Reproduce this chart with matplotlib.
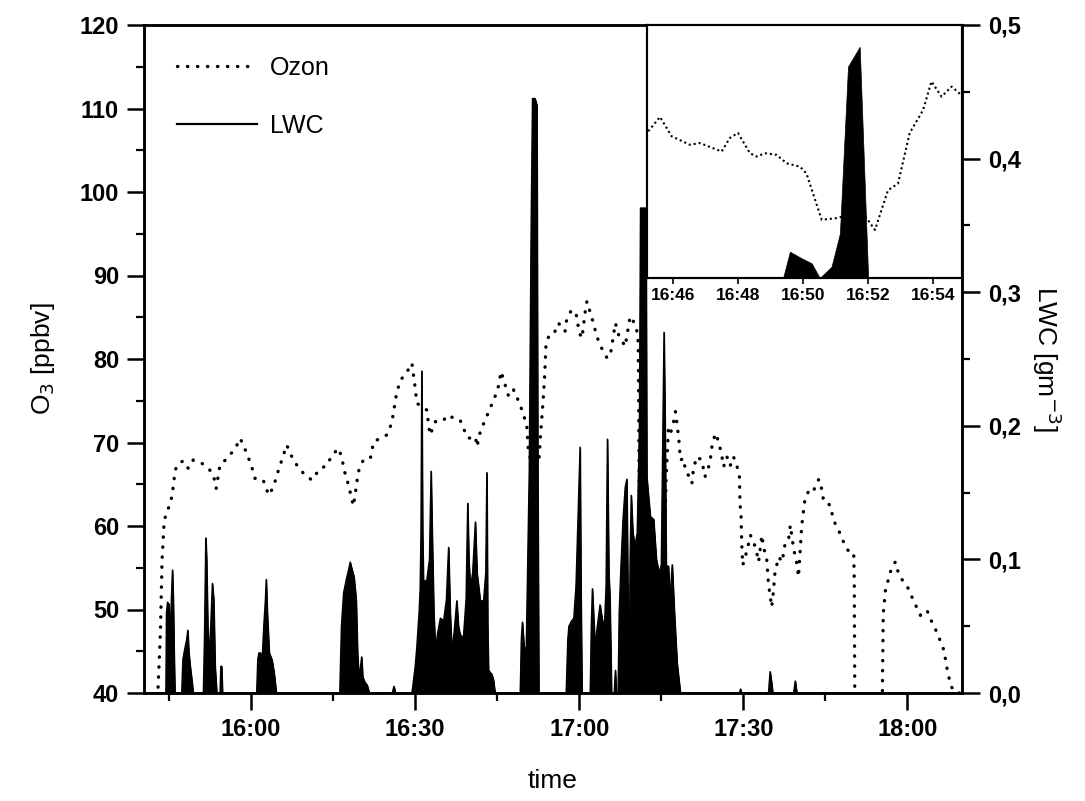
import matplotlib
matplotlib.use('Agg')
import matplotlib.pyplot as plt
from matplotlib.lines import Line2D
from matplotlib.ticker import FixedLocator, FuncFormatter, MultipleLocator

plt.rcParams['font.family'] = ['Liberation Sans', 'DejaVu Sans']

# ---------------- data (time in minutes after 15:00) ----------------
ozone_time = [42.9, 43.4, 43.7, 44.1, 44.9, 45.5, 45.8, 46.1, 46.7, 47.6, 48.5, 49.4, 51.0, 52.2,
              53.1, 53.6, 54.3, 55.6, 57.1, 58.0, 59.2, 60.1, 60.7, 62.2, 63.2, 64.1, 64.7, 65.3,
              66.5, 67.7, 69.0, 69.9, 71.1, 72.6, 73.8, 74.8, 76.0, 76.6, 77.0, 77.8, 78.7, 79.0,
              79.6, 80.5, 81.8, 82.4, 83.6, 84.8, 85.7, 86.6, 87.3, 88.2, 89.4, 90.0, 90.3, 91.2,
              92.1, 92.7, 93.7, 94.9, 96.1, 97.0, 98.2, 98.8, 99.7, 101.0, 101.3, 101.9, 102.8,
              103.7, 104.6, 105.2, 105.7, 107.1, 108.0, 109.2, 109.8, 110.4, 110.7, 111.3, 112.6,
              112.9, 113.4, 113.7, 113.9, 114.4, 115.3, 116.2, 117.4, 117.7, 118.6, 119.6, 119.9,
              120.5, 121.1, 121.4, 122.6, 123.2, 124.1, 125.1, 125.7, 126.6, 127.2, 128.4, 128.7,
              129.3, 129.9, 130.5, 130.8, 131.0, 131.2, 135.2, 135.5, 135.9, 136.3, 136.6, 137.2,
              137.6, 137.9, 138.2, 138.5, 139.1, 139.4, 140.3, 140.6, 140.9, 141.5, 142.4, 143.0,
              143.6, 144.0, 144.3, 144.9, 145.5, 146.1, 146.4, 147.0, 147.6, 148.2, 148.8, 149.3,
              149.4, 149.6, 149.7, 149.9, 150.7, 151.3, 151.9, 152.5, 152.8, 153.4, 153.7, 154.3,
              154.6, 155.2, 155.5, 155.8, 156.5, 157.1, 157.7, 158.3, 158.6, 159.2, 159.8, 160.1,
              160.4, 160.7, 161.0, 161.3, 162.2, 162.9, 163.8, 164.4, 164.7, 165.9, 166.5, 167.7,
              168.7, 169.6, 170.2, 170.3, 170.4, 175.4, 175.6, 176.0, 176.9, 177.8, 178.4, 179.3,
              180.2, 181.1, 182.4, 183.6, 184.2, 185.1, 186.0, 186.7, 187.3, 187.9, 188.5, 189.5]
ozone_ppbv = [39.5, 47.2, 55.9, 60.7, 62.2, 63.5, 65.0, 66.7, 67.5, 67.8, 66.9, 67.9, 67.5, 66.9,
              66.1, 64.5, 67.3, 68.1, 69.3, 70.5, 68.7, 67.1, 65.7, 65.5, 63.7, 64.7, 66.1, 67.3,
              69.7, 67.9, 66.7, 66.1, 65.5, 66.9, 67.2, 68.5, 69.3, 68.1, 66.7, 64.9, 62.4, 63.7,
              66.5, 67.9, 68.1, 70.1, 70.5, 70.9, 72.3, 75.9, 77.5, 78.1, 79.5, 76.5, 74.7, 74.3,
              73.9, 70.9, 72.5, 72.5, 73.3, 72.9, 72.7, 71.7, 70.5, 70.7, 69.5, 71.3, 72.7,
              74.1, 75.5, 76.7, 78.5, 75.5, 76.3, 74.5, 73.3, 72.1, 68.9, 67.5, 67.5,
              70.7, 75.1, 78.3, 81.5, 82.7, 82.9, 84.3, 83.3, 84.7, 85.9, 85.1, 83.3,
              82.5, 85.7, 86.9, 84.3, 82.7, 81.3, 80.1, 80.5, 84.3, 82.9, 81.5, 82.7,
              85.1, 84.5, 83.5, 81.9, 60.0, 38.0, 38.0, 55.0, 66.0, 71.5, 70.9, 72.3,
              73.7, 72.1, 70.5, 67.9, 68.1, 66.7, 65.7, 65.1, 66.9, 68.3, 67.9, 65.9,
              66.9, 68.1, 69.7, 71.1, 70.1, 68.3, 67.1, 68.3, 67.2, 68.3, 67.3, 65.9,
              62.7, 61.1, 58.1, 55.3, 57.1, 58.9, 58.1, 56.7, 55.7, 58.9, 57.5, 55.9,
              53.1, 50.3, 52.1, 54.5, 56.3, 55.7, 58.1, 58.5, 60.1, 57.3, 55.5, 53.9,
              57.1, 60.1, 61.7, 63.3, 64.5, 64.3, 65.6, 64.3, 62.9, 62.5, 60.7, 59.1,
              57.5, 56.7, 56.7, 53.5, 38.0, 38.0, 49.5, 52.3, 54.5, 55.7, 54.3, 53.3,
              52.5, 51.1, 49.3, 49.9, 48.9, 47.7, 46.3, 45.1, 42.8, 41.0, 40.2, 40.0]

lwc_time = [40.4, 44.4, 44.5, 44.7, 45.0, 45.2, 45.4, 45.6, 45.75, 45.9, 46.05,
            47.3, 47.5, 47.8, 48.2, 48.4, 48.6, 48.9, 49.2, 49.4,
            51.25, 51.45, 51.7, 51.85, 52.1, 52.3, 52.6, 52.9, 53.15, 53.4, 53.7,
            54.3, 54.45, 54.6, 54.75,
            61.0, 61.2, 61.4, 61.7, 62.0, 62.3, 62.6, 62.75, 62.95, 63.3, 63.8, 64.2, 64.6,
            76.2, 76.5, 76.9, 77.4, 77.8, 78.1, 78.4, 78.8, 79.2, 79.45, 79.7, 80.0, 80.2, 80.4,
            80.8, 81.2, 81.6, 85.8, 86.1, 86.4,
            89.4, 90.0, 90.3, 90.7, 90.9, 91.05, 91.2, 91.35, 91.5, 92.1, 92.6, 92.9, 93.1, 93.4,
            93.7, 94.1, 94.6, 95.2, 95.7, 96.1, 96.4, 96.7, 97.1, 97.6, 97.9, 98.2, 98.8, 99.3,
            99.6, 99.8, 100.1, 100.5, 101.0, 101.3, 101.9, 102.5, 102.9, 103.1, 103.25, 103.4,
            104.0, 104.3, 104.6,
            109.2, 109.4, 109.6, 109.9, 110.3, 110.5, 110.85, 111.2, 111.45, 111.9, 112.25,
            112.4, 112.6,
            117.6, 117.9, 118.1, 118.6, 119.0, 119.4, 119.6, 119.9, 120.15, 120.3, 120.5,
            122.0, 122.2, 122.4, 122.6, 122.9, 123.3, 123.8, 124.2, 124.6, 124.9, 125.15, 125.4,
            125.6, 125.9, 126.4, 126.6, 126.8, 127.1, 127.3, 127.6, 128.0, 128.4, 128.7, 128.95,
            129.1, 129.3, 129.5, 129.8, 130.2, 130.6, 131.0, 131.2, 131.8, 132.2, 132.35, 132.6,
            133.0, 133.6, 134.1, 134.6, 135.0, 135.3, 135.5, 135.7, 135.9, 136.3, 136.6, 137.0,
            137.4, 137.9, 138.5,
            149.3, 149.5, 149.7, 154.6, 154.9, 155.1, 155.4, 159.2, 159.5, 159.8, 190.0]
lwc_value = [0.0, 0.0, 0.06, 0.068, 0.066, 0.04, 0.07, 0.092, 0.07, 0.03, 0.0,
             0.0, 0.025, 0.032, 0.04, 0.047, 0.03, 0.018, 0.008, 0.0,
             0.0, 0.04, 0.116, 0.10, 0.04, 0.03, 0.05, 0.082, 0.07, 0.02, 0.0,
             0.0, 0.02, 0.02, 0.0,
             0.0, 0.025, 0.03, 0.03, 0.025, 0.05, 0.07, 0.085, 0.06, 0.03, 0.025, 0.015, 0.0,
             0.0, 0.05, 0.075, 0.085, 0.092, 0.098, 0.093, 0.087, 0.07, 0.03, 0.012, 0.02, 0.027, 0.012,
             0.008, 0.006, 0.0, 0.0, 0.005, 0.0,
             0.0, 0.02, 0.035, 0.06, 0.078, 0.12, 0.241, 0.12, 0.084, 0.084, 0.10, 0.166, 0.12, 0.06,
             0.032, 0.045, 0.056, 0.054, 0.07, 0.109, 0.06, 0.032, 0.045, 0.069, 0.05, 0.044, 0.041, 0.07,
             0.142, 0.10, 0.078, 0.09, 0.128, 0.09, 0.069, 0.069, 0.09, 0.165, 0.05, 0.017,
             0.014, 0.01, 0.0,
             0.0, 0.04, 0.053, 0.035, 0.032, 0.08, 0.166, 0.35, 0.445, 0.445, 0.44,
             0.184, 0.0,
             0.0, 0.04, 0.05, 0.054, 0.056, 0.08, 0.108, 0.15, 0.184, 0.08, 0.0,
             0.0, 0.05, 0.078, 0.06, 0.035, 0.05, 0.066, 0.055, 0.049, 0.08, 0.19, 0.09,
             0.072, 0.0, 0.0, 0.017, 0.0, 0.0, 0.06, 0.093, 0.13, 0.154, 0.16, 0.05,
             0.0, 0.10, 0.148, 0.12, 0.11, 0.12, 0.20, 0.363, 0.363, 0.363, 0.162, 0.15,
             0.132, 0.13, 0.10, 0.09, 0.096, 0.20, 0.27, 0.20, 0.095, 0.095, 0.07, 0.096,
             0.06, 0.022, 0.0,
             0.0, 0.003, 0.0, 0.0, 0.016, 0.01, 0.0, 0.0, 0.009, 0.0, 0.0]

inset_ozone_time = [105.24, 105.6, 105.96, 106.52, 106.83, 107.5, 107.75, 108.0, 108.37, 108.58,
                    108.83, 109.19, 109.5, 109.91, 110.11, 110.58, 111.04, 111.24, 111.96, 112.22,
                    112.62, 112.93, 113.29, 113.7, 113.96, 114.27, 114.58, 114.88]
inset_ozone_ppbv = [77.4, 79.1, 76.8, 75.8, 76.0, 75.0, 76.6, 77.2, 74.8, 74.4,
                    74.8, 74.6, 73.6, 73.2, 72.4, 66.9, 67.1, 67.3, 67.1, 65.7,
                    70.4, 71.2, 77.2, 79.9, 83.3, 81.5, 82.7, 81.7]
inset_lwc_time = [105.2, 109.39, 109.6, 109.96, 110.27, 110.52, 110.88, 111.14, 111.39, 111.75, 112.01, 114.9]
inset_lwc_value = [0.0, 0.0, 0.052, 0.039, 0.029, 0.0, 0.022, 0.088, 0.418, 0.457, 0.0, 0.0]

x_tick_minutes = [60, 90, 120, 150, 180]
x_tick_labels = ['16:00', '16:30', '17:00', '17:30', '18:00']
inset_tick_minutes = [106, 108, 110, 112, 114]
inset_tick_labels = ['16:46', '16:48', '16:50', '16:52', '16:54']

# ---------------- figure ----------------
W, H = 1085, 801
fig = plt.figure(figsize=(W / 100, H / 100), dpi=100)
L, R, T, B = 144, 962, 25, 693
ax = fig.add_axes([L / W, 1 - B / H, (R - L) / W, (B - T) / H])
ax2 = ax.twinx()

dot_style = dict(color='black', lw=2.4, linestyle=(0, (0.1, 2.9)), dash_capstyle='round')
ax.plot(ozone_time, ozone_ppbv, **dot_style)
ax.set_xlim(40.4, 190.0)
ax.set_ylim(40, 120)
ax2.set_ylim(0, 0.5)

ax2.fill_between(lwc_time, 0, lwc_value, color='black', lw=0.8)
ax2.plot(lwc_time, lwc_value, color='black', lw=1.0)

ax.xaxis.set_major_locator(FixedLocator(x_tick_minutes))
ax.set_xticklabels(x_tick_labels)
ax.xaxis.set_minor_locator(MultipleLocator(15))
ax.yaxis.set_major_locator(MultipleLocator(10))
ax.yaxis.set_minor_locator(MultipleLocator(5))
ax2.yaxis.set_major_locator(MultipleLocator(0.1))
ax2.yaxis.set_minor_locator(MultipleLocator(0.05))
ax2.yaxis.set_major_formatter(FuncFormatter(lambda v, p: f"{v:.1f}".replace('.', ',')))

for a in (ax, ax2):
    for s in a.spines.values():
        s.set_linewidth(1.8)
ax.tick_params(which='major', length=12, width=1.8, labelsize=17, pad=6, direction='out')
ax.tick_params(which='minor', length=6, width=1.6, direction='out')
ax.tick_params(top=False, right=False, which='both')
ax2.tick_params(which='major', length=13, width=1.8, labelsize=17, pad=6, direction='out')
ax2.tick_params(which='minor', length=6, width=1.6, direction='out')
for lab in ax.get_xticklabels() + ax.get_yticklabels() + ax2.get_yticklabels():
    lab.set_fontweight('bold')

ax.set_ylabel('O$_3$ [ppbv]', fontsize=19, labelpad=16)
ax.set_xlabel('time', fontsize=19, labelpad=20)
ax2.set_ylabel('LWC [gm$^{-3}$]', fontsize=19, rotation=270, labelpad=30)

handles = [Line2D([], [], **dot_style), Line2D([], [], color='black', lw=1.6)]
leg = ax2.legend(handles, ['Ozon', 'LWC'], loc='upper left',
                 bbox_to_anchor=((177 - L) / (R - L), (B - 56) / (B - T)),
                 frameon=False, fontsize=18, handlelength=3.2, handletextpad=0.5,
                 labelspacing=1.35, borderpad=0, borderaxespad=0)

# ---------------- inset ----------------
IL, IR, IT, IB = 647, 962, 25, 278
axi = fig.add_axes([IL / W, 1 - IB / H, (IR - IL) / W, (IB - IT) / H])
axi.set_facecolor('white')
axi.plot(inset_ozone_time, inset_ozone_ppbv, color='black', lw=1.5,
         linestyle=(0, (1, 1.4)))
axi.set_xlim(105.2, 114.9)
axi.set_ylim(60, 90)
axi2 = axi.twinx()
axi2.fill_between(inset_lwc_time, 0, inset_lwc_value, color='black', lw=0.5)
axi2.set_ylim(0, 0.5)
axi.xaxis.set_major_locator(FixedLocator(inset_tick_minutes))
axi.set_xticklabels(inset_tick_labels, fontweight='bold')
axi.tick_params(axis='x', length=4, width=1.2, labelsize=12.5, pad=3, direction='out')
axi.tick_params(axis='y', left=False, labelleft=False)
axi2.tick_params(axis='y', right=False, labelright=False)
for a in (axi, axi2):
    for s in a.spines.values():
        s.set_linewidth(1.5)

fig.savefig('out.png', dpi=100)
